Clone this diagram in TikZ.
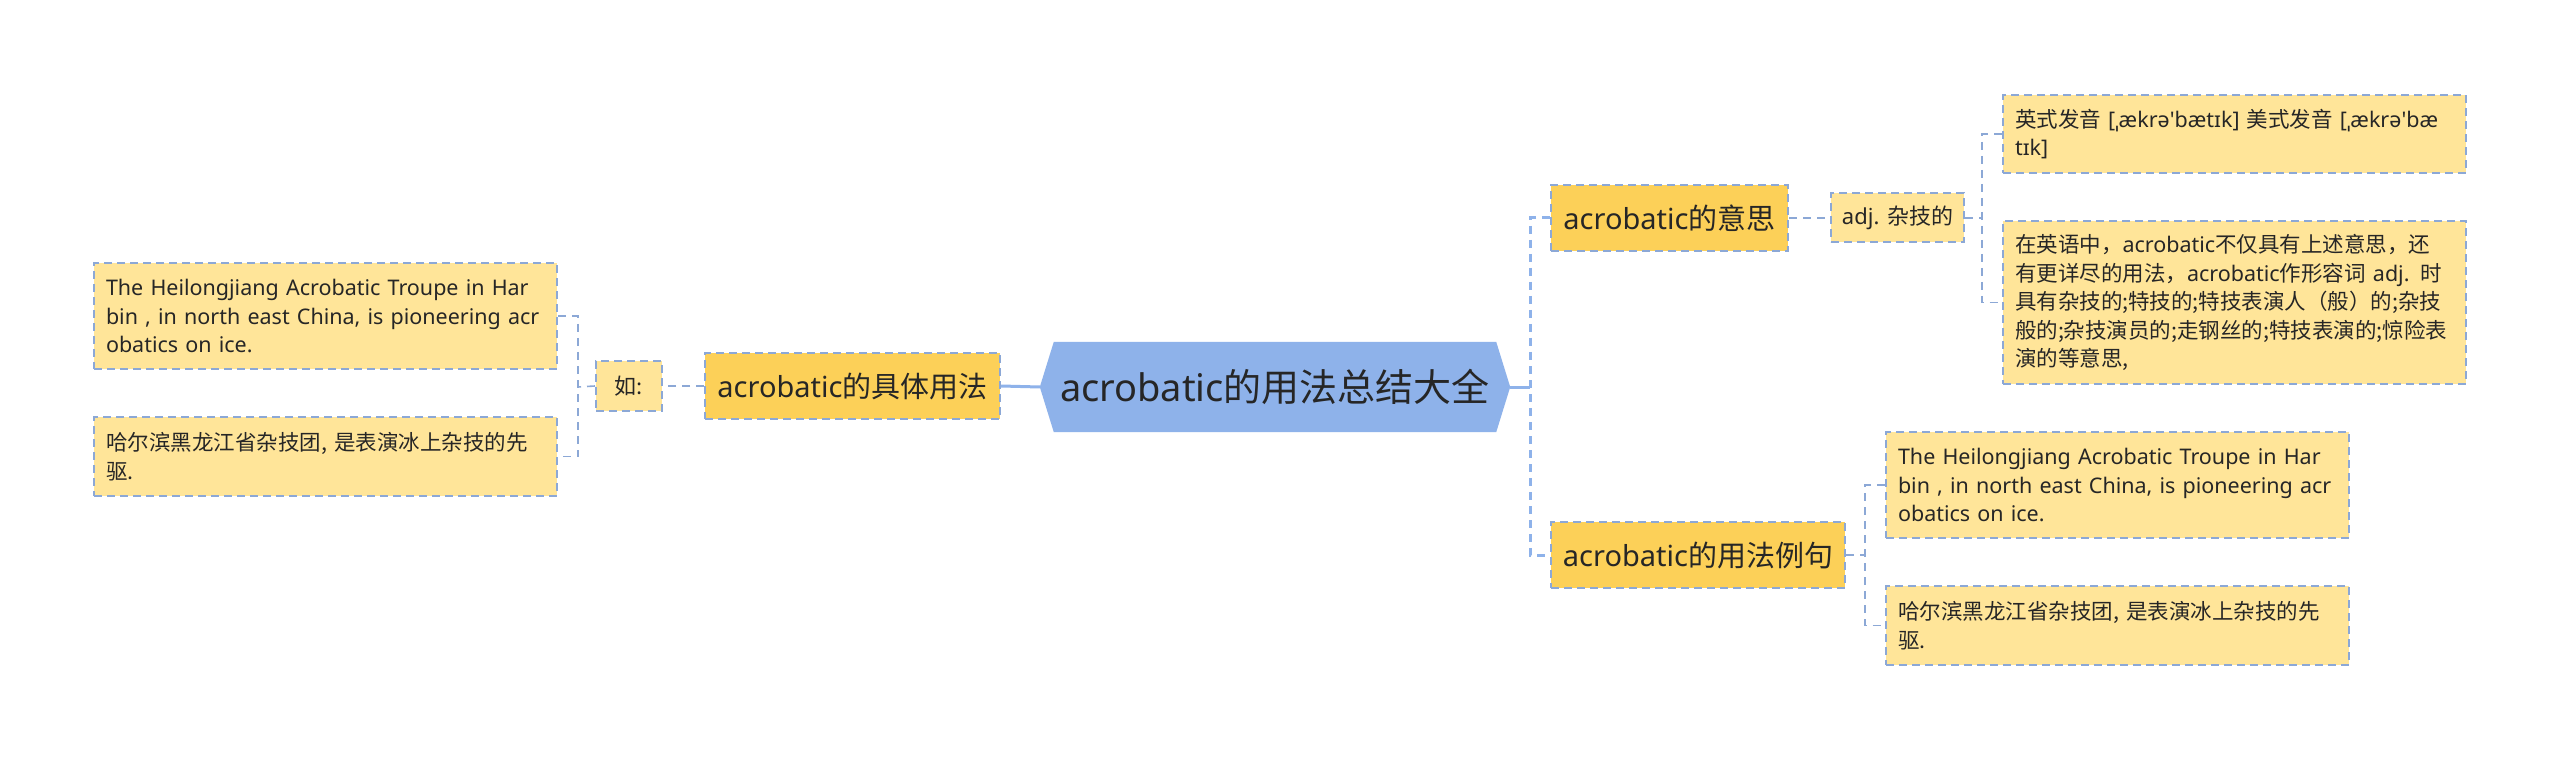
\documentclass[tikz,border=0pt]{standalone}
\usepackage{fontspec}
\setmainfont{Noto Sans}
\newfontfamily\cjk{Noto Sans CJK SC}
\newcommand\zhtext[1]{{\cjk #1}}
\usepackage{xcolor}
\usetikzlibrary{positioning}
\definecolor{rootc}{HTML}{8EB2EA}
\definecolor{topicc}{HTML}{FCD058}
\definecolor{leafc}{HTML}{FFE599}
\definecolor{linec}{HTML}{8CA8D6}
\definecolor{textc}{HTML}{262626}
\pgfdeclarelayer{bg}
\pgfsetlayers{bg,main}

\begin{document}
\begin{tikzpicture}[
    x=1pt, y=-1pt,
    rootbox/.style={minimum width=470pt, minimum height=90pt, inner sep=0pt,
                    text=textc, font=\fontsize{38}{46}\selectfont},
    topicbox/.style={draw=linec, fill=topicc, line width=2pt, dash pattern=on 8pt off 5pt,
                     minimum height=66pt, inner sep=0pt, text=textc,
                     font=\fontsize{29}{34}\selectfont},
    tagbox/.style={draw=linec, fill=leafc, line width=2pt, dash pattern=on 8pt off 5pt,
                   minimum height=49pt, inner sep=0pt, text=textc,
                   font=\fontsize{22}{28}\selectfont},
    leafbox/.style={draw=linec, fill=leafc, line width=2pt, dash pattern=on 8pt off 5pt,
                    text width=439pt, align=left, inner xsep=12pt, inner ysep=0pt,
                    text=textc, font=\fontsize{21.5}{28.5}\selectfont},
    link/.style={draw=linec, line width=1.6pt, dash pattern=on 8pt off 6pt},
    trunk/.style={draw=rootc, line width=3pt, dash pattern=on 8pt off 6pt},
    solidlink/.style={draw=rootc, line width=3pt}
  ]
    \useasboundingbox (0,0) rectangle (2560,759);

    % centre
    \node[rootbox] (root) at (1275,387) {acrobatic\zhtext{的用法总结大全}};
    \begin{pgfonlayer}{bg}
      \fill[white] (0,0) rectangle (2560,759);
      \fill[rootc] (root.west) -- ([xshift=14pt]root.north west) -- ([xshift=-14pt]root.north east)
        -- (root.east) -- ([xshift=-14pt]root.south east) -- ([xshift=14pt]root.south west) -- cycle;
    \end{pgfonlayer}

    % left branch
    \node[topicbox, minimum width=295pt] (usage) at (852.5,386) {acrobatic\zhtext{的具体用法}};
    \node[tagbox, minimum width=66pt, minimum height=50pt, left=41pt of usage] (eg) {\zhtext{如:}};
    \node[leafbox, minimum height=106pt] (lsent) at (325.5,316)
      {The~Heilongjiang~Acrobatic~Troupe~in~Har\\bin~,~in~north~east~China,~is~pioneering~acr\\obatics on ice.};
    \node[leafbox, minimum height=79pt] (ltrans) at (325.5,456.5)
      {\zhtext{哈尔滨黑龙江省杂技团, 是表演冰上杂技的先}\\\zhtext{驱.}};

    % right branch: meaning
    \node[topicbox, minimum width=237pt] (mean) at (1669.5,218) {acrobatic\zhtext{的意思}};
    \node[tagbox, minimum width=133pt, right=41pt of mean] (adj) {adj. \zhtext{杂技的}};
    \node[leafbox, minimum height=78pt] (pron) at (2234.5,134)
      {\zhtext{英式发音} [ˌækrə\textquotesingle bætɪk] \zhtext{美式发音} [ˌækrə\textquotesingle bæ\\tɪk]};
    \node[leafbox, minimum height=163pt] (more) at (2234.5,302.5)
      {\zhtext{在英语中，}acrobatic\zhtext{不仅具有上述意思，还}\\
       \zhtext{有更详尽的用法，}acrobatic\zhtext{作形容词} adj. \zhtext{时}\\
       \zhtext{具有杂技的;特技的;特技表演人（般）的;杂技}\\
       \zhtext{般的;杂技演员的;走钢丝的;特技表演的;惊险表}\\
       \zhtext{演的等意思,}};

    % right branch: examples
    \node[topicbox, minimum width=294pt] (examples) at (1698,555) {acrobatic\zhtext{的用法例句}};
    \node[leafbox, minimum height=106pt] (rsent) at (2117.5,485)
      {The~Heilongjiang~Acrobatic~Troupe~in~Har\\bin~,~in~north~east~China,~is~pioneering~acr\\obatics on ice.};
    \node[leafbox, minimum height=79pt] (rtrans) at (2117.5,625.5)
      {\zhtext{哈尔滨黑龙江省杂技团, 是表演冰上杂技的先}\\\zhtext{驱.}};

    % junctions
    \coordinate (jroot) at (1530,387);
    \coordinate (jeg) at (578,387);
    \coordinate (jadj) at (1982,218);
    \coordinate (jex) at (1865,555);

    % connectors
    \draw[solidlink] (root.west) -- (usage.east);
    \draw[link] (usage.west) -- (eg.east);
    \draw[link] (eg.west) -- (jeg);
    \draw[link] (lsent.east) -| (jeg) |- (ltrans.east);

    \draw[solidlink] (root.east) -- (jroot);
    \draw[trunk] (mean.west) -| (jroot) |- (examples.west);

    \draw[link] (mean.east) -- (adj.west);
    \draw[link] (adj.east) -- (jadj);
    \draw[link] (pron.west) -| (jadj) |- (more.west);

    \draw[link] (examples.east) -- (jex);
    \draw[link] (rsent.west) -| (jex) |- (rtrans.west);
  \end{tikzpicture}
\end{document}
